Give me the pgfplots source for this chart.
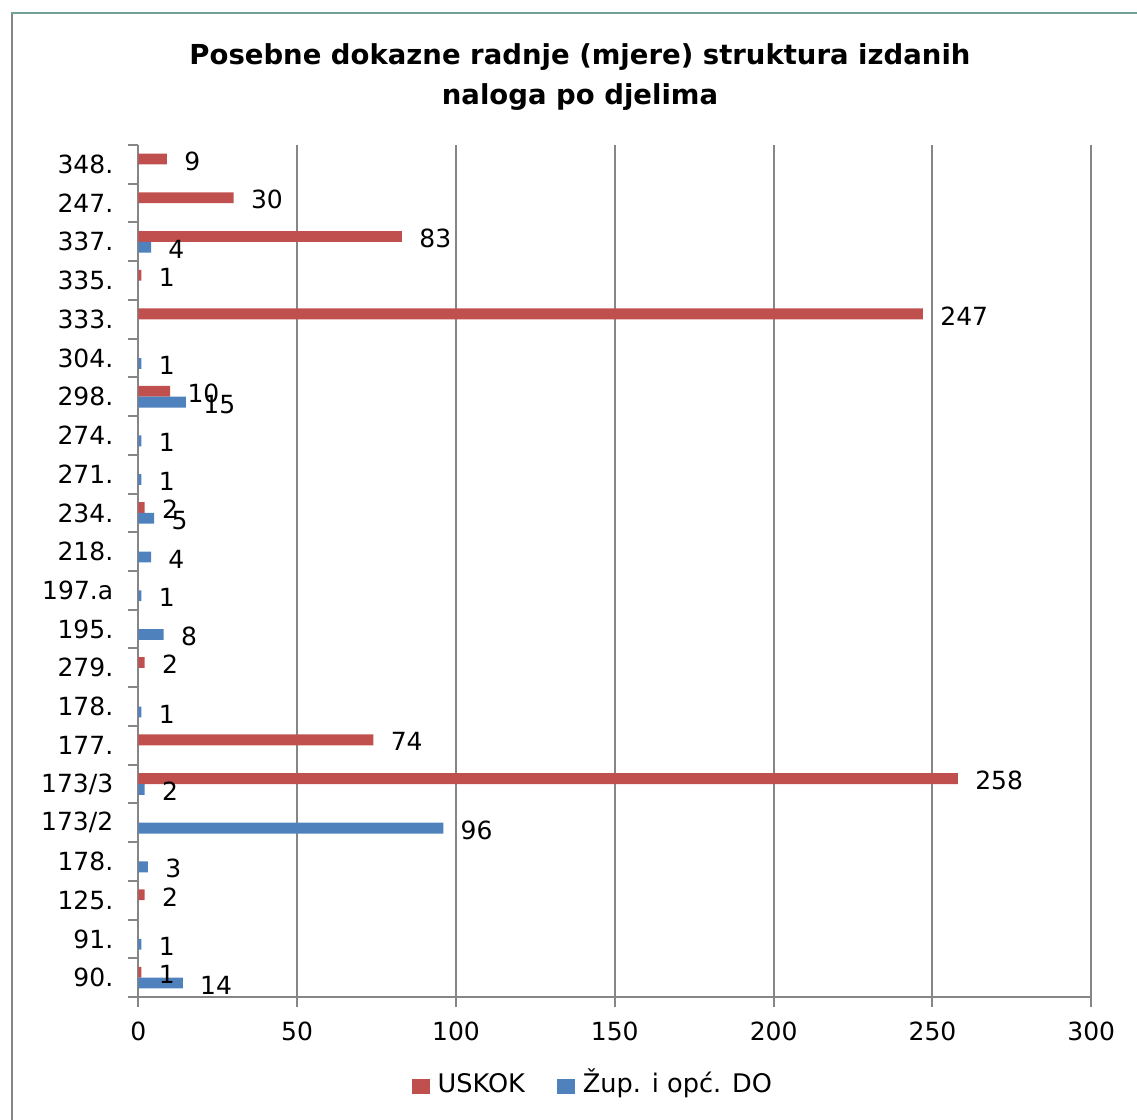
\documentclass[border=0pt]{standalone}
\usepackage{fontspec}
\setmainfont{DejaVu Sans}
\usepackage{pgfplots}
\pgfplotsset{compat=1.18}
\definecolor{uskok}{HTML}{C0504D}
\definecolor{zup}{HTML}{4F81BD}
\definecolor{gridgray}{RGB}{134,134,134}
\definecolor{frametop}{RGB}{112,160,150}
\begin{document}
\begin{tikzpicture}
\path[use as bounding box] (0pt,0pt) rectangle (568.5pt,-560pt);
\draw[gridgray, line width=1.25pt] (6pt,-600pt) -- (6pt,-6.5pt);
\draw[frametop, line width=1.25pt] (5.4pt,-6.5pt) -- (600pt,-6.5pt);
\node[font=\bfseries\fontsize{13.75}{20}\selectfont, align=center] at (290pt,-38.5pt)
  {Posebne dokazne radnje (mjere) struktura izdanih\\naloga po djelima};
\begin{axis}[
  at={(69.15pt,-498.5pt)}, anchor=south west,
  scale only axis, width=476.5pt, height=426pt,
  xbar, bar width=5.4pt,
  xmin=0, xmax=300, ymin=-0.5, ymax=21.5,
  axis x line*=bottom, axis y line*=left,
  axis line style={gridgray, line width=1pt, -},
  xtick={0,50,...,300}, xmajorgrids,
  grid style={gridgray, line width=1pt},
  ytick={-0.5,0.5,...,21.5},
  yticklabels={90.,91.,125.,178.,173/2,173/3,177.,178.,279.,195.,197.a,218.,234.,271.,274.,298.,304.,333.,335.,337.,247.,348.,{}},
  tick align=outside, major tick length=5pt,
  tick style={gridgray, line width=1pt},
  ticklabel style={font=\fontsize{12.5}{15}\selectfont, text=black},
  yticklabel style={anchor=east, yshift=9.68pt, xshift=-4pt},
  xticklabel style={yshift=-4pt},
  /pgf/number format/assume math mode=true,
  point meta=x,
  nodes near coords,
  nodes near coords style={font=\fontsize{12.5}{15}\selectfont, text=black, anchor=west, xshift=5.2pt, yshift=-1pt},
  legend style={draw=none, at={(0.478,-0.1056)}, anchor=center, font=\fontsize{12.8}{15}\selectfont,
    legend columns=2,
    nodes={text height=0.8em, text depth=0.22em},
    /tikz/every odd column/.append style={column sep=2pt},
    /tikz/every even column/.append style={column sep=14pt}},
  legend image code/.code={\draw[#1, draw=none] (0pt,-3.75pt) rectangle (9pt,3.75pt);},
]
\addplot[fill=uskok, draw=none, bar shift=2.7pt] coordinates {
  (1,0) (2,2) (258,5) (74,6) (2,8) (2,12) (10,15) (247,17) (1,18) (83,19) (30,20) (9,21)};
\addplot[fill=zup, draw=none, bar shift=-2.7pt] coordinates {
  (14,0) (1,1) (3,3) (96,4) (2,5) (1,7) (8,9) (1,10) (4,11) (5,12) (1,13) (1,14) (15,15) (1,16) (4,19)};
\legend{USKOK, Žup. i opć. DO}
\end{axis}
\end{tikzpicture}
\end{document}
